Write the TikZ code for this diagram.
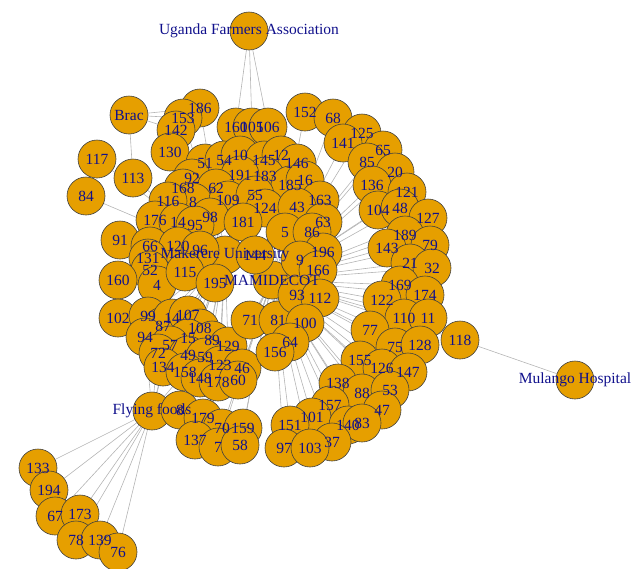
\documentclass[tikz,border=0pt]{standalone}
\usepackage{fontspec}
\setmainfont{Liberation Serif}
\pgfdeclarelayer{background}
\pgfsetlayers{background,main}
\definecolor{vorange}{HTML}{E69F00}
\definecolor{lblue}{HTML}{10108C}
\definecolor{egray}{HTML}{B4B4B4}
\tikzset{
  vtx/.style={circle,minimum size=38pt,inner sep=0pt,fill=vorange,draw=black!75,line width=0.6pt},
  lbl/.style={text=lblue,font=\fontsize{15.5}{16}\selectfont,inner sep=0pt},
  edge/.style={draw=egray,line width=0.6pt}
}
\def\vlist{MAK/225/255/Makerere University,MAM/272/280/MAMIDECOT,
UFA/249/31/Uganda Farmers Association,Brac/129/115/Brac,FF/152/411/Flying foods,MH/575/380/Mulango Hospital,
186/200/108/186,153/183/118/153,142/176/130/142,130/170/152/130,
160/236/127/160,105/252/127/105,106/268/127/106,
117/97/159/117,84/86/196/84,113/133/178/113,
51/205/163/51,54/224/160/54,10/240/155/10,145/264/160/145,12/281/155/12,146/297/163/146,
183/265/176/183,191/240/175/191,185/290/185/185,16/305/180/16,163/320/200/163,
92/192/178/92,168/183/188/168,62/216/188/62,8/193/202/8,116/168/201/116,109/228/200/109,
55/255/195/55,124/265/208/124,43/297/207/43,98/210/217/98,181/243/222/181,5/285/232/5,
63/323/222/63,86/312/232/86,196/323/252/196,9/300/260/9,166/318/270/166,
176/155/220/176,14/178/222/14,95/195/225/95,91/120/240/91,66/150/246/66,120/178/246/120,
96/200/250/96,131/148/258/131,52/150/270/52,4/157/285/4,115/185/272/115,195/215/283/195,
144/255/255/144,160b/118/280/160,102/118/318/102,
99/148/316/99,87/163/326/87,141b/172/318/14,107/188/315/107,108/200/328/108,94/145/337/94,
15/188/338/15,57/170/345/57,72/158/353/72,89/212/340/89,129/228/346/129,49/188/355/49,
59/205/357/59,123/220/365/123,46/242/368/46,134/163/367/134,158/185/372/158,148/200/378/148,
178/218/382/178,60/238/380/60,
71/250/320/71,81/278/320/81,93/297/295/93,112/320/298/112,100/305/323/100,64/290/342/64,156/275/352/156,
80/180/410/8,179/203/418/179,70/222/428/70,159/243/428/159,137/195/440/137,7/218/447/7,58/240/445/58,
152/305/112/152,68/333/118/68,125/362/133/125,141/343/143/141,65/383/150/65,85/367/162/85,
20/395/172/20,136/372/185/136,121/407/192/121,104/378/210/104,48/400/208/48,127/428/218/127,
189/405/235/189,79/430/245/79,143/387/248/143,21/410/263/21,32/432/268/32,169/400/285/169,
174/425/295/174,122/382/300/122,110/404/318/110,11/428/318/11,77/370/330/77,75/395/347/75,
128/420/345/128,155/360/360/155,126/382/368/126,147/408/372/147,138/338/383/138,88/362/393/88,
53/390/390/53,157/330/405/157,47/382/410/47,101/312/417/101,140/348/425/140,83/362/423/83,
151/290/425/151,37/332/442/37,97/284/448/97,103/310/448/103,
118/460/340/118,
133/38/468/133,194/49/490/194,67/55/516/67,173/80/514/173,78/76/540/78,139/100/540/139,76/118/552/76}
\begin{document}
\begin{tikzpicture}[x=1pt,y=-1pt]
\useasboundingbox (0,0) rectangle (640,568);
\foreach \n/\x/\y/\l in \vlist { \node[vtx] (n\n) at (\x,\y) {}; }
\begin{pgfonlayer}{background}
\foreach \t in {152,68,125,141,65,85,20,136,121,104,48,127,189,79,143,21,32,169,174,122,110,11,77,75,128,155,126,147,138,88,53,157,47,101,140,83,151,37,97,103,118,71,81,93,112,100,64,156,5,9,166,196,63,86,179,70,159,137,7,58,60,46}
  \draw[edge] (nMAM) -- (n\t);
\foreach \t in {117,84,113,91,160b,102,130,142,153,186,99,87,107,108,94,15,57,72,89,129,49,59,123,134,158,148,178,131,52,4,66,176}
  \draw[edge] (nMAK) -- (n\t);
\foreach \t in {133,194,67,173,78,139,76,80,179,137,72,134,158,148,178,60,57,94,123}
  \draw[edge] (nFF) -- (n\t);
\foreach \t in {160,105,106}
  \draw[edge] (nUFA) -- (n\t);
\foreach \t in {186,153,113,142}
  \draw[edge] (nBrac) -- (n\t);
\draw[edge] (nMH) -- (n118);
\end{pgfonlayer}
\foreach \n/\x/\y/\l in \vlist { \node[lbl] at (n\n) {\l}; }
\end{tikzpicture}
\end{document}
